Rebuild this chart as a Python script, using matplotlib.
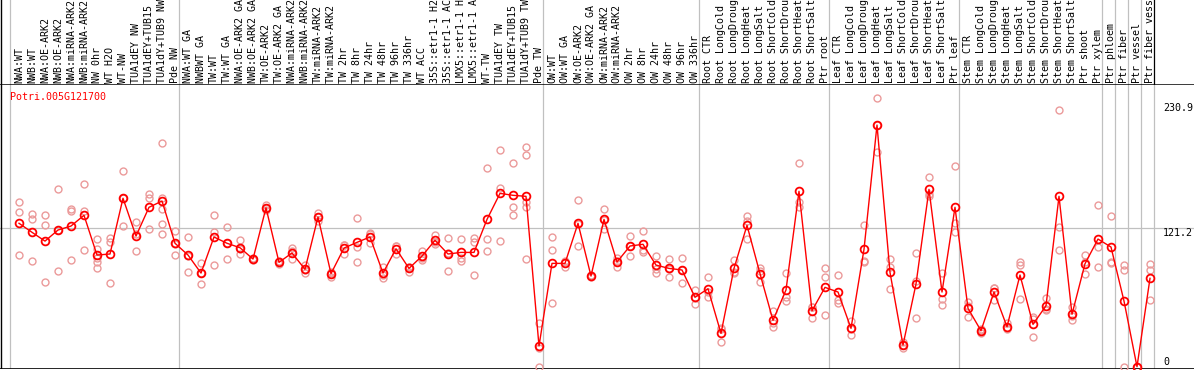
import matplotlib
matplotlib.use("Agg")
import matplotlib.pyplot as plt
import matplotlib.transforms as mtrans

gene = "Potri.005G121700"

samples = [
    "NWA:WT", "NWB:WT", "NWA:OE-ARK2", "NWB:OE-ARK2", "NWA:miRNA-ARK2", "NWB:miRNA-ARK2",
    "NW 0hr", "WT H2O", "WT-NW", "TUA1dEY NW", "TUA1dEY+TUB15 NW", "TUA1dY+TUB9 NW", "Pde NW",
    "NWA:WT GA", "NWBWT GA", "TW:WT", "TW:WT GA", "NWA:OE-ARK2 GA", "NWB:OE-ARK2 GA",
    "TW:OE-ARK2", "TW:OE-ARK2 GA", "NWA:miRNA-ARK2 GA", "NWB:miRNA-ARK2 GA", "TW:miRNA-ARK2",
    "TW:miRNA-ARK2 GA", "TW 2hr", "TW 8hr", "TW 24hr", "TW 48hr", "TW 96hr", "TW 336hr",
    "WT ACC", "35S::etr1-1 H2O", "35S::etr1-1 ACC", "LMX5::etr1-1 H2O", "LMX5::etr1-1 ACC",
    "WT-TW", "TUA1dEY TW", "TUA1dEY+TUB15 TW", "TUA1dY+TUB9 TW", "Pde TW",
    "OW:WT", "OW:WT GA", "OW:OE-ARK2", "OW:OE-ARK2 GA", "OW:miRNA-ARK2", "OW:miRNA-ARK2 GA",
    "OW 2hr", "OW 8hr", "OW 24hr", "OW 48hr", "OW 96hr", "OW 336hr",
    "Root CTR", "Root LongCold", "Root LongDrought", "Root LongHeat", "Root LongSalt",
    "Root ShortCold", "Root ShortDrought", "Root ShortHeat", "Root ShortSalt", "Ptr root",
    "Leaf CTR", "Leaf LongCold", "Leaf LongDrought", "Leaf LongHeat", "Leaf LongSalt",
    "Leaf ShortCold", "Leaf ShortDrought", "Leaf ShortHeat", "Leaf ShortSalt", "Ptr leaf",
    "Stem CTR", "Stem LongCold", "Stem LongDrought", "Stem LongHeat", "Stem LongSalt",
    "Stem ShortCold", "Stem ShortDrought", "Stem ShortHeat", "Stem ShortSalt",
    "Ptr shoot", "Ptr xylem", "Ptr phloem", "Ptr fiber", "Ptr vessel", "Ptr fiber vessel",
]

means = [
    125.6, 117.7, 110.0, 119.7, 123.2, 132.6, 97.8, 98.7, 147.5, 114.4,
    139.6, 145.1, 108.1, 97.8, 82.0, 113.6, 108.1, 104.2, 94.3, 139.2,
    91.4, 99.6, 85.3, 131.1, 81.5, 103.9, 108.9, 113.6, 82.0, 103.3,
    86.1, 96.9, 110.7, 98.7, 100.1, 100.1, 129.0, 151.8, 150.1, 149.2,
    18.1, 90.5, 90.5, 125.6, 79.4, 129.0, 91.7, 105.7, 107.2, 89.0,
    86.1, 84.7, 60.8, 68.3, 29.2, 86.1, 123.8, 81.5, 40.6, 67.2,
    153.6, 49.0, 69.5, 65.4, 33.6, 102.8, 211.6, 82.6, 19.0, 72.4,
    155.3, 65.4, 139.6, 51.1, 31.5, 65.4, 35.0, 80.3, 37.1, 53.4,
    149.2, 45.9, 90.2, 111.8, 104.8, 57.5, 0.0, 77.4,
]

reps = [
    [144.2, 135.5, 97.8], [133.4, 129.0, 92.3], [132.6, 123.8, 73.9], [155.6, 119.9, 83.5],
    [138.1, 136.6, 93.7], [159.7, 136.6, 101.9], [111.8, 103.1, 94.9, 91.9, 86.2],
    [113.0, 109.5, 73.3], [171.4, 147.5, 123.2], [126.4, 115.8, 101.0], [151.0, 148.0, 120.6],
    [195.6, 148.0, 137.8, 125.0, 116.2], [118.8, 107.8, 97.8], [113.6, 97.0, 82.9],
    [90.5, 82.5, 72.2], [132.6, 118.0, 88.8], [122.0, 108.3, 94.0], [111.2, 103.0, 98.4],
    [95.5, 94.0, 93.4], [142.0, 138.6, 137.0], [93.0, 91.5, 89.7], [103.9, 100.9, 94.0],
    [89.0, 85.0, 82.0], [134.8, 130.7, 127.8], [83.2, 82.4, 78.9], [106.5, 106.8, 98.4],
    [130.2, 105.1, 91.4], [116.8, 115.9, 108.1], [87.7, 80.2, 78.1], [105.9, 105.3, 98.7],
    [87.6, 87.5, 83.2], [101.6, 95.4, 93.7], [115.6, 109.3, 107.2], [112.7, 99.9, 83.5],
    [111.8, 95.2, 92.3], [113.0, 109.5, 80.3], [173.7, 111.8, 101.0], [189.5, 156.8, 110.1],
    [178.4, 139.6, 132.6], [192.1, 185.1, 144.5, 139.6, 94.0], [38.0, 16.3, 0.0],
    [113.6, 101.9, 55.8], [92.4, 91.4, 87.7], [146.0, 125.4, 105.4], [80.0, 79.2, 79.0],
    [138.1, 128.3, 120.6], [94.9, 92.5, 87.7], [114.4, 106.0, 96.7], [118.6, 102.2, 100.1],
    [96.9, 85.5, 82.3], [94.0, 86.0, 78.8], [95.2, 84.7, 73.0], [67.2, 60.6, 54.6],
    [78.5, 65.6, 60.8], [33.6, 32.6, 21.4], [93.2, 83.3, 81.8], [132.0, 127.8, 111.6],
    [86.1, 84.0, 74.4], [48.8, 38.0, 35.0], [81.8, 61.3, 57.8], [178.1, 144.5, 139.6],
    [52.5, 52.1, 42.4], [86.1, 78.3, 45.0], [80.3, 58.4, 55.5], [40.3, 32.7, 27.8],
    [124.1, 92.4, 91.9], [235.0, 211.5, 188.3], [94.3, 87.0, 67.8], [21.9, 19.1, 16.0],
    [99.3, 75.3, 42.4], [165.8, 151.2, 149.5], [82.3, 59.0, 54.0], [175.5, 125.6, 118.2],
    [56.9, 53.2, 43.2], [32.6, 32.2, 29.7], [69.2, 68.6, 58.4], [38.5, 34.0, 32.6],
    [91.9, 89.0, 59.0], [43.8, 41.8, 25.7], [59.9, 50.7, 49.6], [224.5, 122.0, 101.9],
    [52.5, 44.3, 40.9], [97.8, 91.6, 81.2], [141.3, 105.1, 87.3], [132.0, 91.9, 90.5],
    [89.0, 84.7, 0.0], [0.0, 0.0, 0.0], [89.9, 84.7, 58.4],
]

# group boundaries (index of first sample in each new group)
group_starts = [0, 13, 41, 53, 63, 73, 84, 85, 86, 87, 88]
right_ticks = [230.9, 121.2, 0]
ref_line = 121.2

W, H = 1194, 370
fig = plt.figure(figsize=(W / 100, H / 100), dpi=100)
font = "DejaVu Sans Mono"
fs = 7.2

# pixel geometry: sample i at x = 19 + 13*i, plot area y 85..369
xlim = (-19 / 13, (W - 19) / 13)
top_px, bot_px = 85, 369
ax = fig.add_axes([0, (H - bot_px) / H, 1, (bot_px - top_px) / H])
ax.set_xlim(*xlim)
ax.set_ylim(-2.0, 246.7)
ax.axis("off")

lab = fig.add_axes([0, (H - top_px) / H, 1, top_px / H])
lab.set_xlim(*xlim)
lab.set_ylim(0, 1)
lab.axis("off")

grid_c = "#c0c0c0"
for k in group_starts:
    xb = k - 9 / 13
    ax.axvline(xb, color=grid_c, lw=0.9, zorder=1)
    lab.axvline(xb, color="black" if k == 88 else grid_c, lw=0.9)
ax.axhline(ref_line, color=grid_c, lw=0.9, zorder=1)

# frame lines
xl = xlim[0] + 1.2 / 13
ax.axvline(xl, color="black", lw=1.0)
lab.axvline(xl, color="black", lw=1.0)
ax.axhline(ax.get_ylim()[0] + 0.1, color="black", lw=1.2)
lab.axhline(0.0, color="black", lw=1.8)

xs = list(range(len(samples)))
for i, r in enumerate(reps):
    ax.plot([i] * len(r), r, linestyle="none", marker="o", ms=5.0, mfc="none",
            mec="#eb9a9a", mew=1.0, zorder=2, clip_on=False)
ax.plot(xs, means, color="red", lw=1.0, marker="o", ms=5.6, mfc="none",
        mec="red", mew=1.3, zorder=3, clip_on=False)

for i, s in enumerate(samples):
    lab.text(i, 2 / 85, s, rotation=90, ha="center", va="bottom",
             fontsize=fs, family=font, color="black")

ax.text(-9 / 13, 236, gene, color="red", fontsize=fs, family=font,
        ha="left", va="center")

xr = (1163 - 19) / 13
for v in right_ticks:
    ax.text(xr, v, str(v), fontsize=fs, family=font, color="black",
            ha="left", va="bottom" if v == 0 else "top")

fig.savefig("out.png", dpi=100)
